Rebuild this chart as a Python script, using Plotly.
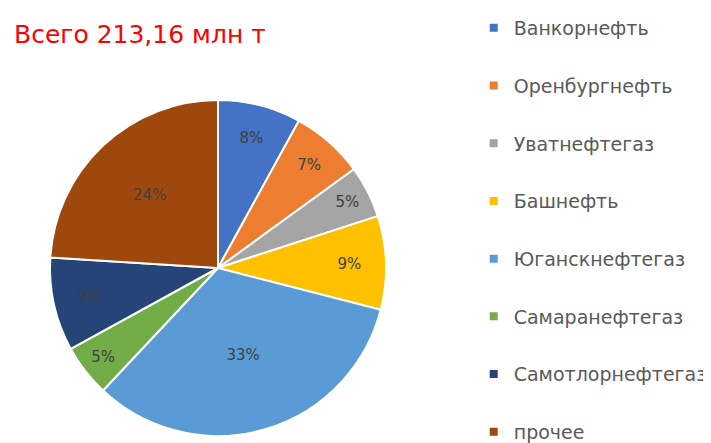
import plotly.graph_objects as go

# Production shares, %
companies = ["Ванкорнефть", "Оренбургнефть", "Уватнефтегаз", "Башнефть",
             "Юганскнефтегаз", "Самаранефтегаз", "Самотлорнефтегаз", "прочее"]
shares = [8, 7, 5, 9, 33, 5, 9, 24]
colors = ["#4472C4", "#ED7D31", "#A5A5A5", "#FFC000",
          "#5B9BD5", "#70AD47", "#264478", "#9E480E"]
total_label = "Всего 213,16 млн т"

W, H = 711, 443
cx, cy, r = 210, 260, 168

fig = go.Figure()

fig.add_trace(go.Pie(
    labels=companies,
    values=shares,
    sort=False,
    direction="clockwise",
    rotation=0,
    marker=dict(colors=colors, line=dict(color="white", width=2)),
    texttemplate="%{percent:.0%}",
    textposition="inside",
    insidetextorientation="horizontal",
    textfont=dict(size=15, color="#404040", family="DejaVu Sans"),
    showlegend=False,
    hoverinfo="label+value",
    domain=dict(x=[(cx - r) / W, (cx + r) / W],
                y=[(H - cy - r) / H, (H - cy + r) / H]),
))

# legend entries, one group each so the gap can spread them out
for name, c in zip(companies, colors):
    fig.add_trace(go.Scatter(
        x=[None], y=[None], mode="markers", name=name,
        legendgroup=name,
        marker=dict(symbol="square", size=8, color=c),
    ))

fig.update_layout(
    width=W, height=H,
    margin=dict(l=0, r=0, t=0, b=0),
    paper_bgcolor="white",
    plot_bgcolor="white",
    xaxis=dict(visible=False),
    yaxis=dict(visible=False),
    font=dict(family="DejaVu Sans", color="#595959"),
    legend=dict(
        x=0.655, y=1 - 5 / H, xanchor="left", yanchor="top",
        font=dict(size=19, color="#595959", family="DejaVu Sans"),
        tracegroupgap=30,
        itemwidth=30,
        bgcolor="rgba(0,0,0,0)",
    ),
    annotations=[dict(
        text=total_label, x=4 / W, y=1 - 26 / H,
        xref="paper", yref="paper", xanchor="left", yanchor="middle",
        showarrow=False,
        font=dict(size=25, color="#FF0000", family="DejaVu Sans"),
    )],
)

fig.write_html("out.html")
